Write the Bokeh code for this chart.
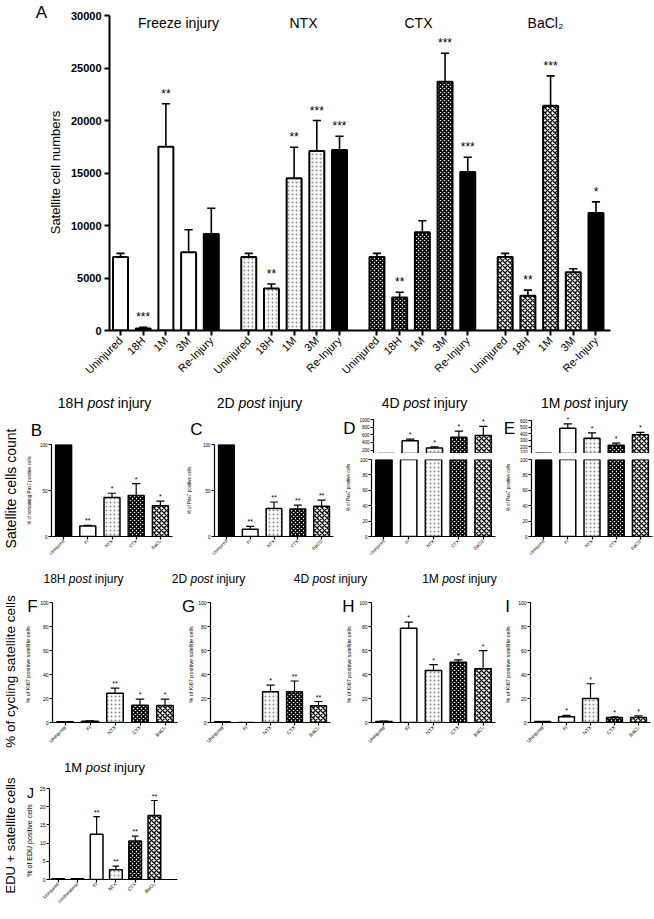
import math
from bokeh.plotting import figure
from bokeh.models import Range1d, FixedTicker, ColumnDataSource, Label, LabelSet
from bokeh.layouts import column, row
from bokeh.core.properties import value
from bokeh.embed import file_html
from bokeh.resources import INLINE

FONT = "Liberation Sans"
PI2 = math.pi / 2

# ---------------- data ----------------
A_groups = ["Freeze injury", "NTX", "CTX", "BaCl₂"]
A_times = ["Uninjured", "18H", "1M", "3M", "Re-Injury"]
A_freeze = [7000, 200, 17500, 7450, 9200]
A_freeze_err = [350, 100, 4100, 2150, 2450]
A_ntx = [7000, 4000, 14500, 17100, 17200]
A_ntx_err = [350, 430, 2950, 2900, 1300]
A_ctx = [7000, 3150, 9350, 23700, 15100]
A_ctx_err = [350, 500, 1100, 2700, 1400]
A_bacl = [7000, 3300, 21400, 5550, 11200]
A_bacl_err = [350, 550, 2850, 330, 1050]
A_stars = [["", "***", "**", "", ""], ["", "**", "**", "***", "***"],
           ["", "**", "", "***", "***"], ["", "**", "***", "", "*"]]
A_yticks = [0, 5000, 10000, 15000, 20000, 25000, 30000]

treat_sub = ["Uninjured", "FI", "NTX", "CTX", "BaCl₂"]
treat_plain = ["Uninjured", "FI", "NTX", "CTX", "BaCl2"]
treat_J = ["Uninjured", "contralateral", "FI", "NTX", "CTX", "BaCl₂"]

B_vals = [100, 11.5, 42.5, 44.5, 33.5]
B_err = [0, 0.5, 4.5, 13, 5]
B_stars = ["", "**", "*", "*", "*"]
C_vals = [100, 8, 30.5, 30, 33]
C_err = [0, 3, 7, 4, 6.5]
C_stars = ["", "**", "**", "**", "**"]
D_vals = [100, 442, 256, 535, 581]
D_err = [0, 46, 28, 167, 242]
D_stars = ["", "*", "*", "*", "*"]
E_vals = [100, 484, 330, 225, 385]
E_err = [0, 69, 84, 30, 38]
E_stars = ["", "*", "*", "*", "*"]
F_vals = [0.7, 1.0, 24.4, 14.4, 14.2]
F_err = [0, 0.3, 4.2, 5, 5.2]
F_stars = ["", "", "**", "*", "*"]
G_vals = [0.7, 0, 25.6, 25.6, 13.9]
G_err = [0, 0, 5.5, 9, 3.6]
G_stars = ["", "", "*", "**", "**"]
H_vals = [0.8, 78.5, 43.4, 50.3, 44.8]
H_err = [0.3, 5.2, 4.9, 1.9, 15.1]
H_stars = ["", "*", "*", "*", "*"]
I_vals = [0.8, 4.7, 19.9, 4.1, 4.1]
I_err = [0, 1.3, 12.4, 0.6, 1.4]
I_stars = ["", "*", "*", "*", "*"]
J_vals = [0.2, 0.2, 12.4, 2.7, 10.6, 17.6]
J_err = [0, 0, 4.9, 1.0, 1.3, 4.1]
J_stars = ["", "", "**", "**", "**", "**"]

pct_ticks = [0, 50, 100]
pct5_ticks = [0, 20, 40, 60, 80, 100]
J_ticks = [0, 5, 10, 15, 20, 25]
D_up_ticks = [200, 400, 600, 800, 1000]
E_up_ticks = [100, 200, 300, 400, 500, 600]

# ---------------- styles ----------------
STYLE = {
    "black": dict(fill="black", hatch="blank", hcolor="black", hscale=4, hweight=1),
    "white": dict(fill="white", hatch="blank", hcolor="black", hscale=4, hweight=1),
    "dot": dict(fill="white", hatch="dot", hcolor="#8a8a8a", hscale=4, hweight=1),
    "dark": dict(fill="white", hatch="diagonal_cross", hcolor="black", hscale=4, hweight=1.8),
    "check": dict(fill="white", hatch="diagonal_cross", hcolor="black", hscale=5, hweight=1.3),
}
S5 = ["black", "white", "dot", "dark", "check"]
S6 = ["black", "black", "white", "dot", "dark", "check"]

WID = {'1': .556, '8': .556, 'H': .722, ' ': .278, '2': .556, 'D': .722, '4': .556,
       'M': .833, 'i': .222, 'n': .556, 'j': .222, 'u': .556, 'r': .333, 'y': .5}
POST_W = 1.89


class Geo:
    def __init__(s, left, top, w, h, bl, br, bt, bb, xr, yr):
        s.w, s.h, s.bl, s.br, s.bt, s.bb = w, h, bl, br, bt, bb
        s.fl, s.fr = left + bl, left + w - br
        s.ft, s.fb = top + bt, top + h - bb
        s.xr, s.yr = xr, yr

    def dx(s, px):
        return s.xr[0] + (px - s.fl) / (s.fr - s.fl) * (s.xr[1] - s.xr[0])

    def dy(s, py):
        return s.yr[0] + (s.fb - py) / (s.fb - s.ft) * (s.yr[1] - s.yr[0])


def iso(p):
    return column(p)


def make_fig(g, x_axis=True):
    kw = dict(width=g.w, height=g.h, x_range=Range1d(*g.xr), y_range=Range1d(*g.yr),
              toolbar_location=None, output_backend="svg",
              min_border_left=g.bl, min_border_right=g.br,
              min_border_top=g.bt, min_border_bottom=g.bb)
    if not x_axis:
        kw["x_axis_location"] = None
    p = figure(**kw)
    p.outline_line_color = None
    p.grid.visible = False
    return p


def strip(x0, y0, w, h):
    p = figure(width=w, height=h, x_range=Range1d(x0, x0 + w), y_range=Range1d(y0 + h, y0),
               toolbar_location=None, output_backend="svg",
               x_axis_location=None, y_axis_location=None,
               min_border_left=0, min_border_right=0, min_border_top=0, min_border_bottom=0)
    p.outline_line_color = None
    p.grid.visible = False
    return p


def lab(p, x, y, text, size, align="center", baseline="middle", style="normal", angle=0.0):
    p.add_layout(Label(x=x, y=y, text=text, text_font=FONT, text_font_size=f"{size}px",
                       text_font_style=style, text_align=align, text_baseline=baseline,
                       angle=angle, text_color="black"))


def title(p, cx, cy, prefix, size):
    w1 = sum(WID[c] for c in prefix + " ") * size
    w2 = POST_W * size
    ws = WID[' '] * size
    w3 = sum(WID[c] for c in "injury") * size
    left = cx - (w1 + w2 + ws + w3) / 2
    lab(p, left, cy, prefix, size, align="left")
    lab(p, left + w1, cy, "post", size, align="left", style="italic")
    lab(p, left + w1 + w2 + ws, cy, "injury", size, align="left")


def style_axes(p, lw, tick_out, tick_px, bold=False, standoff=1):
    for ax in p.axis:
        ax.axis_line_width = lw
        ax.axis_line_color = "black"
        ax.major_tick_line_width = lw
        ax.major_tick_line_color = "black"
        ax.major_tick_out = tick_out
        ax.major_tick_in = 0
        ax.minor_tick_line_color = None
        ax.major_label_text_font = FONT
        ax.major_label_text_font_size = f"{tick_px}px"
        ax.major_label_text_color = "black"
        ax.major_label_text_font_style = "bold" if bold else "normal"
        ax.major_label_standoff = standoff


def add_bars(p, xs, vals, errs, styles, bw, lw, cap, stars=None, star_px=7, star_off=2):
    src = ColumnDataSource(dict(
        x=xs, top=vals,
        fill=[STYLE[s]["fill"] for s in styles],
        hatch=[STYLE[s]["hatch"] for s in styles],
        hcolor=[STYLE[s]["hcolor"] for s in styles],
        hscale=[STYLE[s]["hscale"] for s in styles],
        hweight=[STYLE[s]["hweight"] for s in styles]))
    p.vbar(x="x", top="top", bottom=0, width=bw, source=src, fill_color="fill",
           line_color="black", line_width=lw, hatch_pattern="hatch", hatch_color="hcolor",
           hatch_scale="hscale", hatch_weight="hweight")
    ex = [x for x, e in zip(xs, errs) if e > 0]
    eb = [v for v, e in zip(vals, errs) if e > 0]
    et = [v + e for v, e in zip(vals, errs) if e > 0]
    if ex:
        p.segment(x0=ex, y0=eb, x1=ex, y1=et, line_color="black", line_width=lw * 0.8)
        p.segment(x0=[x - cap for x in ex], y0=et, x1=[x + cap for x in ex], y1=et,
                  line_color="black", line_width=lw * 0.8)
    if stars is not None:
        ssrc = ColumnDataSource(dict(x=xs, y=[v + e for v, e in zip(vals, errs)], t=stars))
        p.add_layout(LabelSet(x="x", y="y", text="t", source=ssrc, text_align="center",
                              text_baseline="alphabetic", y_offset=star_off,
                              text_font=value(FONT), text_font_size=f"{star_px}px",
                              text_color="black"))


def small_axes(p, names, yticks, tick_px, lab_px, x_axis=True):
    style_axes(p, 1.2, 3, tick_px, bold=False, standoff=1)
    p.yaxis.ticker = FixedTicker(ticks=yticks)
    if x_axis:
        p.xaxis.ticker = FixedTicker(ticks=list(range(len(names))))
        p.xaxis.major_label_overrides = {i: nm for i, nm in enumerate(names)}
        p.xaxis.major_label_orientation = math.pi / 4
        p.xaxis.major_label_text_font_size = f"{lab_px}px"


# ================= row 1 : panel A =================
sA = strip(0, 0, 62, 385)
lab(sA, 41, 12, "A", 17)
lab(sA, 55, 172, "Satellite cell numbers", 13, angle=PI2)

gA = Geo(62, 0, 592, 385, 47, 44, 15, 55, (-0.485, 21.59), (0, 30000))
pA = make_fig(gA)
A_vals = [A_freeze, A_ntx, A_ctx, A_bacl]
A_errs = [A_freeze_err, A_ntx_err, A_ctx_err, A_bacl_err]
A_styles = ["white", "dot", "dark", "check"]
A_pos = []
for gi in range(4):
    xs = [round(gi * 5.65 + i, 3) for i in range(5)]
    A_pos += xs
    add_bars(pA, xs, A_vals[gi], A_errs[gi], [A_styles[gi]] * 4 + ["black"], 0.66, 2, 0.18,
             stars=A_stars[gi], star_px=12, star_off=6)
style_axes(pA, 2, 5, 11, bold=True, standoff=3)
pA.yaxis.ticker = FixedTicker(ticks=A_yticks)
pA.xaxis.ticker = FixedTicker(ticks=A_pos)
pA.xaxis.major_label_overrides = {x: A_times[k % 5] for k, x in enumerate(A_pos)}
pA.xaxis.major_label_orientation = math.pi / 4
pA.xaxis.major_label_text_font_style = "normal"
for name, cx in zip(A_groups, [178, 303, 418, 545]):
    pA.add_layout(Label(x=gA.dx(cx), y=gA.dy(22), text=name, text_font=FONT,
                        text_font_size="14px", text_align="center", text_baseline="middle",
                        text_color="black"))
row1 = row(iso(sA), iso(pA))

# ================= row 2 : B-E =================
s_rl2 = strip(0, 385, 20, 180)
lab(s_rl2, 10, 488, "Satellite cells count", 14, angle=PI2)

s_tBC = strip(20, 385, 320, 55)
title(s_tBC, 104, 402, "18H", 14)
title(s_tBC, 259, 402, "2D", 14)
lab(s_tBC, 36, 430, "B", 17)
lab(s_tBC, 196, 429, "C", 17)

s_lB = strip(20, 440, 16, 125)
lab(s_lB, 29, 490, "% of remaining Pax7 positive cells", 4.5, angle=PI2)
gB = Geo(36, 440, 144, 125, 13, 8, 4, 29, (-0.5, 4.5), (0, 100))
pB = make_fig(gB)
add_bars(pB, list(range(5)), B_vals, B_err, S5, 0.66, 1.5, 0.17, B_stars)
small_axes(pB, treat_sub, pct_ticks, 4.5, 4.5)

s_lC = strip(180, 440, 19, 125)
lab(s_lC, 189, 490, "% of Pax7 positive cells", 4.5, angle=PI2)
gC = Geo(199, 440, 141, 125, 13, 7, 4, 29, (-0.5, 4.5), (0, 100))
pC = make_fig(gC)
add_bars(pC, list(range(5)), C_vals, C_err, S5, 0.66, 1.5, 0.17, C_stars)
small_axes(pC, treat_plain, pct_ticks, 4.5, 4.5)

blockBC = column(iso(s_tBC), row(iso(s_lB), iso(pB), iso(s_lC), iso(pC)))


def broken(x0, wt, br, urng, ubounds, uticks, vals, errs, stars, prefix, letter):
    st = strip(x0, 385, wt, 28)
    title(st, x0 + 84, 402, prefix, 14)
    sl = strip(x0, 413, 16, 40)
    lab(sl, x0 + 9, 428, letter, 17)
    gu = Geo(x0 + 16, 413, wt - 16, 40, 14, br, 4, 0, (-0.5, 4.5), urng)
    pu = make_fig(gu, x_axis=False)
    add_bars(pu, list(range(5)), vals, errs, S5, 0.66, 1.5, 0.17, stars)
    small_axes(pu, treat_plain, uticks, 4.5, 4.5, x_axis=False)
    pu.yaxis.bounds = ubounds
    sl2 = strip(x0, 453, 16, 112)
    lab(sl2, x0 + 8, 487, "% of Pax7 positive cells", 4.5, angle=PI2)
    gl = Geo(x0 + 16, 453, wt - 16, 112, 14, br, 6, 29, (-0.5, 4.5), (0, 100))
    pl = make_fig(gl)
    add_bars(pl, list(range(5)), vals, errs, S5, 0.66, 1.5, 0.17)
    small_axes(pl, treat_plain, pct5_ticks, 4.5, 4.5)
    return column(iso(st), row(iso(sl), iso(pu)), row(iso(sl2), iso(pl)))


blockD = broken(340, 160, 5, (108, 1060), (108, 1000), D_up_ticks, D_vals, D_err, D_stars, "4D", "D")
blockE = broken(500, 154, 2, (97, 650), (97, 600), E_up_ticks, E_vals, E_err, E_stars, "1M", "E")

row2 = row(iso(s_rl2), blockBC, blockD, blockE)

# ================= titles strip for row 3 =================
s_t3 = strip(0, 565, 654, 25)
for cx, pre in zip([83, 208, 330, 459], ["18H", "2D", "4D", "1M"]):
    title(s_t3, cx, 578, pre, 12)

# ================= row 3 : F-I =================
row3_specs = [
    (0, 37, 143, 3, F_vals, F_err, F_stars, "F", 32, 27),
    (180, 15, 145, 10, G_vals, G_err, G_stars, "G", 188, 190),
    (340, 16, 144, 5, H_vals, H_err, H_stars, "H", 348, 348),
    (500, 15, 139, 4, I_vals, I_err, I_stars, "I", 507, 507),
]
row3_items = []
for x0, sw, fw, br, vals, errs, stars, letter, lx, ax in row3_specs:
    sl = strip(x0, 590, sw, 162)
    lab(sl, lx, 606, letter, 17)
    lab(sl, ax, 664, "% of Ki67 positive satellite cells", 5.5, angle=PI2)
    if letter == "F":
        lab(sl, 10, 671, "% of cycling satellite cells", 13.5, angle=PI2)
    g = Geo(x0 + sw, 590, fw, 162, 13, br, 12, 30, (-0.5, 4.5), (0, 100))
    p = make_fig(g)
    add_bars(p, list(range(5)), vals, errs, S5, 0.66, 1.5, 0.17, stars)
    small_axes(p, treat_sub, pct5_ticks, 5, 5)
    row3_items += [iso(sl), iso(p)]
row3 = row(*row3_items)

# ================= row 4 : J =================
s_rl4 = strip(0, 752, 20, 156)
lab(s_rl4, 10, 835, "EDU + satellite cells", 13, angle=PI2)
s_tJ = strip(20, 752, 170, 33)
title(s_tJ, 104, 767, "1M", 13)
s_lJ = strip(20, 785, 16, 123)
lab(s_lJ, 30, 792, "J", 14)
lab(s_lJ, 29, 840, "% of EDU positive cells", 7, angle=PI2)
gJ = Geo(36, 785, 154, 123, 13, 13, 3, 27, (-0.45, 6.2), (0, 25))
pJ = make_fig(gJ)
add_bars(pJ, list(range(6)), J_vals, J_err, S6, 0.66, 1.5, 0.17, J_stars)
small_axes(pJ, treat_J, J_ticks, 5, 4.8)
row4 = row(iso(s_rl4), column(iso(s_tJ), row(iso(s_lJ), iso(pJ))))

layout = column(row1, row2, iso(s_t3), row3, row4)
open("out.html", "w").write(file_html(layout, INLINE))
